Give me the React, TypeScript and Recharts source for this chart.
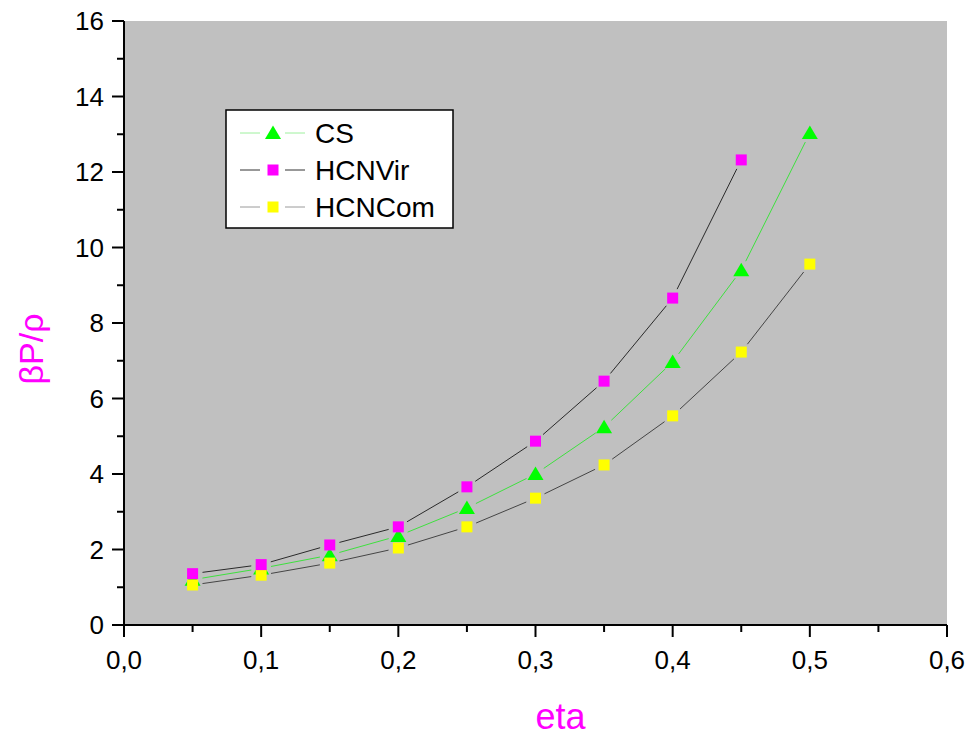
import React from "react";
import { LineChart, Line, XAxis, YAxis, CartesianGrid } from "recharts";

// eta values on the x axis
const eta = [0.05, 0.1, 0.15, 0.2, 0.25, 0.3, 0.35, 0.4, 0.45, 0.5];
// beta P / rho for each equation of state
const cs = [1.2, 1.5, 1.85, 2.36, 3.1, 4.0, 5.24, 6.97, 9.4, 13.03];
const hcnVir = [1.36, 1.6, 2.12, 2.6, 3.66, 4.87, 6.46, 8.66, 12.32];
const hcnCom = [1.06, 1.32, 1.64, 2.04, 2.6, 3.36, 4.24, 5.54, 7.23, 9.56];

const xTicks = [0, 0.05, 0.1, 0.15, 0.2, 0.25, 0.3, 0.35, 0.4, 0.45, 0.5, 0.55, 0.6];
const yTicks = [0, 1, 2, 3, 4, 5, 6, 7, 8, 9, 10, 11, 12, 13, 14, 15, 16];

const data = eta.map((e, i) => ({
  eta: e,
  cs: cs[i],
  hcnVir: hcnVir[i] ?? null,
  hcnCom: hcnCom[i],
}));

const FONT = "Arial, 'Liberation Sans', sans-serif";
const BG = "#c0c0c0";
const GAP = 10;

type Series = { key: string; name: string; line: string; legendLine: string; fill: string; shape: "tri" | "sq" };

const series: Series[] = [
  { key: "cs", name: "CS", line: "#3ee03e", legendLine: "#9ef09e", fill: "#00ff00", shape: "tri" },
  { key: "hcnCom", name: "HCNCom", line: "#454545", legendLine: "#9a9a9a", fill: "#ffff00", shape: "sq" },
  { key: "hcnVir", name: "HCNVir", line: "#2a2a2a", legendLine: "#333333", fill: "#ff00ff", shape: "sq" },
];
const legendOrder = ["cs", "hcnVir", "hcnCom"];

function marker(shape: string, fill: string, cx: number, cy: number, k?: string) {
  if (shape === "tri") {
    return (
      <polygon
        key={k}
        points={`${cx},${cy - 7.5} ${cx + 8},${cy + 6} ${cx - 8},${cy + 6}`}
        fill={fill}
      />
    );
  }
  return <rect key={k} x={cx - 5.5} y={cy - 5.5} width={11} height={11} fill={fill} />;
}

// segment from this point to the next one, stopping short of both markers
function segment(p: any, color: string) {
  const pts = p.points || [];
  const a = pts[p.index];
  const b = pts[p.index + 1];
  if (!a || !b || a.value == null || b.value == null || a.y == null || b.y == null) return <g key={p.key} />;
  const dx = b.x - a.x;
  const dy = b.y - a.y;
  const d = Math.hypot(dx, dy);
  if (d <= 2 * GAP) return <g key={p.key} />;
  const ux = dx / d;
  const uy = dy / d;
  return (
    <line
      key={p.key}
      x1={a.x + ux * GAP}
      y1={a.y + uy * GAP}
      x2={b.x - ux * GAP}
      y2={b.y - uy * GAP}
      stroke={color}
      strokeWidth={1}
    />
  );
}

const isMajor = (v: number, step: number) => Math.abs(Math.round(v / step) * step - v) < 1e-9;

function xTick(props: any, dir: number, label: boolean) {
  const { x, y, payload } = props;
  const v = payload.value as number;
  const major = isMajor(v, 0.1);
  const len = major ? 12 : 7;
  return (
    <g>
      <line x1={x} x2={x} y1={y} y2={y + dir * len} stroke="#000" strokeWidth={2} />
      {label && major && (
        <text x={x} y={y + 44} textAnchor="middle" fontFamily={FONT} fontSize={26} fill="#000">
          {v.toFixed(1).replace(".", ",")}
        </text>
      )}
    </g>
  );
}

function yTick(props: any, dir: number, label: boolean) {
  const { x, y, payload } = props;
  const v = payload.value as number;
  const major = isMajor(v, 2);
  const len = major ? 12 : 7;
  return (
    <g>
      <line x1={x} x2={x + dir * len} y1={y} y2={y} stroke="#000" strokeWidth={2} />
      {label && major && (
        <text x={x - 20} y={y} dy="0.35em" textAnchor="end" fontFamily={FONT} fontSize={26} fill="#000">
          {v}
        </text>
      )}
    </g>
  );
}

function Legend() {
  const rows = legendOrder.map((k) => series.find((s) => s.key === k)!);
  return (
    <div style={{ position: "absolute", left: 225, top: 109 }}>
      <svg width={229} height={120}>
        <rect x={1} y={1} width={227} height={118} fill="#fff" stroke="#000" strokeWidth={1.5} />
        {rows.map((s, i) => {
          const cy = 24 + i * 37;
          return (
            <g key={s.key}>
              <line x1={15} x2={35} y1={cy} y2={cy} stroke={s.legendLine} strokeWidth={1} />
              <line x1={60} x2={80} y1={cy} y2={cy} stroke={s.legendLine} strokeWidth={1} />
              {marker(s.shape, s.fill, 48, cy)}
              <text x={90} y={cy + 10} fontFamily={FONT} fontSize={28} fill="#000">
                {s.name}
              </text>
            </g>
          );
        })}
      </svg>
    </div>
  );
}

export default function App() {
  return (
    <div style={{ position: "absolute", left: 0, top: 0, width: 974, height: 740, background: "#fff" }}>
      <LineChart width={974} height={740} data={data} margin={{ top: 21, right: 27, bottom: 0, left: 0 }}>
        <CartesianGrid horizontal={false} vertical={false} fill={BG} />
        <XAxis
          dataKey="eta"
          type="number"
          xAxisId="b"
          domain={[0, 0.6]}
          ticks={xTicks}
          interval={0}
          height={115}
          tickSize={0}
          tickMargin={0}
          axisLine={{ stroke: "#000", strokeWidth: 2 }}
          tick={(p: any) => xTick(p, 1, true)}
          label={(p: any) => {
            const vb = p.viewBox;
            return (
              <text x={vb.x + vb.width / 2 + 25} y={vb.y + 104} textAnchor="middle" fontFamily={FONT} fontSize={36} fill="#ff00ff">
                eta
              </text>
            );
          }}
        />
        <XAxis
          dataKey="eta"
          type="number"
          xAxisId="t"
          orientation="top"
          domain={[0, 0.6]}
          ticks={xTicks}
          interval={0}
          height={0}
          tickSize={0}
          tickMargin={0}
          axisLine={{ stroke: "#000", strokeWidth: 2 }}
          tick={(p: any) => xTick(p, 1, false)}
        />
        <YAxis
          yAxisId="l"
          type="number"
          domain={[0, 16]}
          ticks={yTicks}
          interval={0}
          width={124}
          tickSize={0}
          tickMargin={0}
          axisLine={{ stroke: "#000", strokeWidth: 2 }}
          tick={(p: any) => yTick(p, -1, true)}
          label={(p: any) => {
            const vb = p.viewBox;
            const cx = vb.x + 43;
            const cy = vb.y + vb.height / 2 + 26;
            return (
              <text x={cx} y={cy} transform={`rotate(-90, ${cx}, ${cy})`} textAnchor="middle" fontFamily={FONT} fontSize={34} fill="#ff00ff">
                βP/ρ
              </text>
            );
          }}
        />
        <YAxis
          yAxisId="r"
          orientation="right"
          type="number"
          domain={[0, 16]}
          ticks={yTicks}
          interval={0}
          width={0}
          tickSize={0}
          tickMargin={0}
          axisLine={{ stroke: "#000", strokeWidth: 2 }}
          tick={(p: any) => yTick(p, -1, false)}
        />
        {series.map((s) => (
          <Line
            key={`line-${s.key}`}
            xAxisId="b"
            yAxisId="l"
            dataKey={s.key}
            stroke="none"
            activeDot={false}
            isAnimationActive={false}
            dot={(p: any) => segment(p, s.line)}
          />
        ))}
        {series.map((s) => (
          <Line
            key={`mark-${s.key}`}
            xAxisId="b"
            yAxisId="l"
            dataKey={s.key}
            stroke="none"
            activeDot={false}
            isAnimationActive={false}
            dot={(p: any) =>
              p.cx == null || p.cy == null || p.value == null ? <g key={p.key} /> : marker(s.shape, s.fill, p.cx, p.cy, p.key)
            }
          />
        ))}
      </LineChart>
      <Legend />
    </div>
  );
}
